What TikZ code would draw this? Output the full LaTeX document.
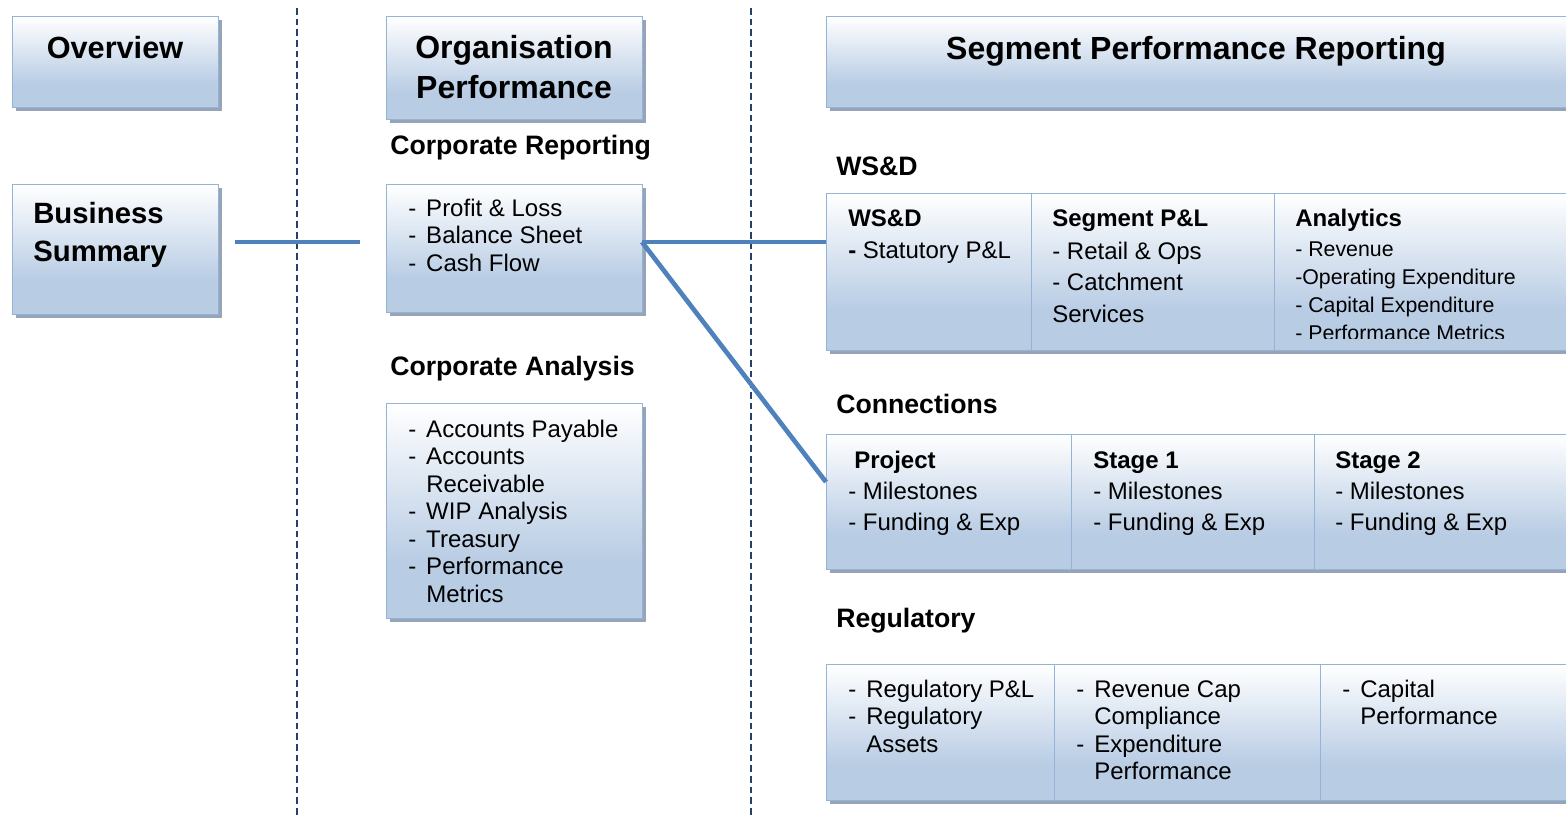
\documentclass[tikz,border=0pt]{standalone}
\usepackage{fontspec}
\setmainfont{Liberation Sans}
\usetikzlibrary{shadows}
\definecolor{boxbot}{HTML}{B8CCE4}
\definecolor{boxline}{HTML}{95B3D7}
\definecolor{shadowc}{HTML}{97A3B6}
\definecolor{linkblue}{HTML}{4F81BD}
\definecolor{dashc}{HTML}{24406C}
\pgfdeclareverticalshading{boxshade}{100bp}{color(0bp)=(boxbot); color(25bp)=(boxbot); color(38bp)=(boxbot); color(75bp)=(white); color(100bp)=(white)}
\newcommand\dsh{\makebox[13.5pt][l]{-}}
\newcommand\hng{\hspace*{13.5pt}}
\begin{document}
\begin{tikzpicture}[x=0.75pt,y=-0.75pt,
  box/.style={rectangle, draw=boxline, line width=1.1pt, shade, shading=boxshade,
    drop shadow={shadow xshift=2.6pt, shadow yshift=-2.6pt, fill=shadowc, opacity=1},
    anchor=north west, inner sep=0pt},
  titletext/.style={font=\fontsize{24}{30}\selectfont\bfseries, inner sep=0pt},
  subtext/.style={font=\fontsize{20}{24}\selectfont\bfseries, anchor=base west, inner sep=0pt},
  body/.style={font=\fontsize{18}{20.6}\selectfont, align=left, anchor=north west, inner sep=0pt},
  cellhead/.style={font=\fontsize{18}{22}\selectfont\bfseries, anchor=base west, inner sep=0pt},
  celltext/.style={font=\fontsize{18}{22}\selectfont, anchor=base west, inner sep=0pt},
  link/.style={draw=linkblue, line width=3.5pt},
  sep/.style={draw=dashc, line width=1.3pt, dash pattern=on 5pt off 3pt}]
\useasboundingbox (0,0) rectangle (1566,818);

% dashed separators
\coordinate (s1t) at (297,8);
\coordinate (s1b) at (297,818);
\coordinate (s2t) at (751,8);
\coordinate (s2b) at (751,818);
\draw[sep] (s1t) -- (s1b);
\draw[sep] (s2t) -- (s2b);

% left column
\node[box, minimum width=154.5pt, minimum height=68.25pt] (ov) at (12,16) {};
\node[titletext, font=\fontsize{23}{30}\selectfont\bfseries, anchor=base] (ovt) at (115,58) {Overview};
\node[box, minimum width=154.5pt, minimum height=97.5pt] (bs) at (12,184) {};
\node[titletext, font=\fontsize{22}{28.5}\selectfont\bfseries, align=left, anchor=north west] (bst) at (33,196.4) {\strut Business\\Summary};

% middle column
\node[box, minimum width=192pt, minimum height=77.25pt] (org) at (386,16) {};
\node[titletext, align=center, anchor=north] (orgt) at (514,30) {\strut Organisation\\Performance};
\node[subtext] (crt) at (390,154) {Corporate Reporting};
\node[box, minimum width=192pt, minimum height=96pt] (pl) at (386,184) {};
\node[body] (plt) at (408,196.8) {\strut\dsh Profit \& Loss\\\dsh Balance Sheet\\\dsh Cash Flow};
\node[subtext] (cat) at (390,375) {Corporate Analysis};
\node[box, minimum width=192pt, minimum height=161.25pt] (ca) at (386,403) {};
\node[body] (cab) at (408,417.8) {\strut\dsh Accounts Payable\\\dsh Accounts\\\hng Receivable\\\dsh WIP Analysis\\\dsh Treasury\\\dsh Performance\\\hng Metrics};

% right column
\node[box, minimum width=570pt, minimum height=68.25pt] (seg) at (826,16) {};
\node[titletext, anchor=base] (segt) at (1196,59) {Segment Performance Reporting};

\node[subtext] (wsl) at (836,175) {WS\&D};
\node[box, minimum width=153.75pt, minimum height=117.75pt] (w1) at (826,193) {};
\node[box, minimum width=182.25pt, minimum height=117.75pt] (w2) at (1031,193) {};
\node[box, minimum width=240pt, minimum height=117.75pt] (w3) at (1274,193) {};
\node[cellhead] (w1h) at (848,226) {WS\&D};
\node[celltext] (w1a) at (848,258) {\textbf{-} Statutory P\&L};
\node[cellhead] (w2h) at (1052,226) {Segment P\&L};
\node[body, font=\fontsize{18}{23.6}\selectfont] (w2a) at (1052,237) {\strut - Retail \& Ops\\- Catchment\\Services};
\node[cellhead] (w3h) at (1295,226) {Analytics};
\begin{scope}
\clip (1274,193) rectangle (1566,338);
\node[body, font=\fontsize{16}{21}\selectfont] (w3a) at (1295,236.4) {\strut - Revenue\\-Operating Expenditure\\- Capital Expenditure\\- Performance Metrics};
\end{scope}

\node[subtext] (cnl) at (836,413) {Connections};
\node[box, minimum width=183.75pt, minimum height=101.25pt] (c1) at (826,434) {};
\node[box, minimum width=182.25pt, minimum height=101.25pt] (c2) at (1071,434) {};
\node[box, minimum width=240pt, minimum height=101.25pt] (c3) at (1314,434) {};
\node[cellhead] (c1h) at (854,468) {Project};
\node[celltext] (c1a) at (848,499) {- Milestones};
\node[celltext] (c1b) at (848,530) {- Funding \& Exp};
\node[cellhead] (c2h) at (1093,468) {Stage 1};
\node[celltext] (c2a) at (1093,499) {- Milestones};
\node[celltext] (c2b) at (1093,530) {- Funding \& Exp};
\node[cellhead] (c3h) at (1335,468) {Stage 2};
\node[celltext] (c3a) at (1335,499) {- Milestones};
\node[celltext] (c3b) at (1335,530) {- Funding \& Exp};

\node[subtext] (rgl) at (836,627) {Regulatory};
\node[box, minimum width=171pt, minimum height=102pt] (r1) at (826,664) {};
\node[box, minimum width=199.5pt, minimum height=102pt] (r2) at (1054,664) {};
\node[box, minimum width=240pt, minimum height=102pt] (r3) at (1320,664) {};
\node[body] (r1t) at (848,677.8) {\strut\dsh Regulatory P\&L\\\dsh Regulatory\\\hng Assets};
\node[body] (r2t) at (1076,677.8) {\strut\dsh Revenue Cap\\\hng Compliance\\\dsh Expenditure\\\hng Performance};
\node[body] (r3t) at (1342,677.8) {\strut\dsh Capital\\\hng Performance};

% connectors
\coordinate (bl) at (235,242);
\coordinate (br) at (360,242);
\coordinate (p0) at (642,242);
\coordinate (c0) at (826,482);
\draw[link] (bl) -- (br);
\draw[link] (p0) -- (p0 -| w1.west);
\draw[link] (p0) -- (c0);
\end{tikzpicture}
\end{document}
